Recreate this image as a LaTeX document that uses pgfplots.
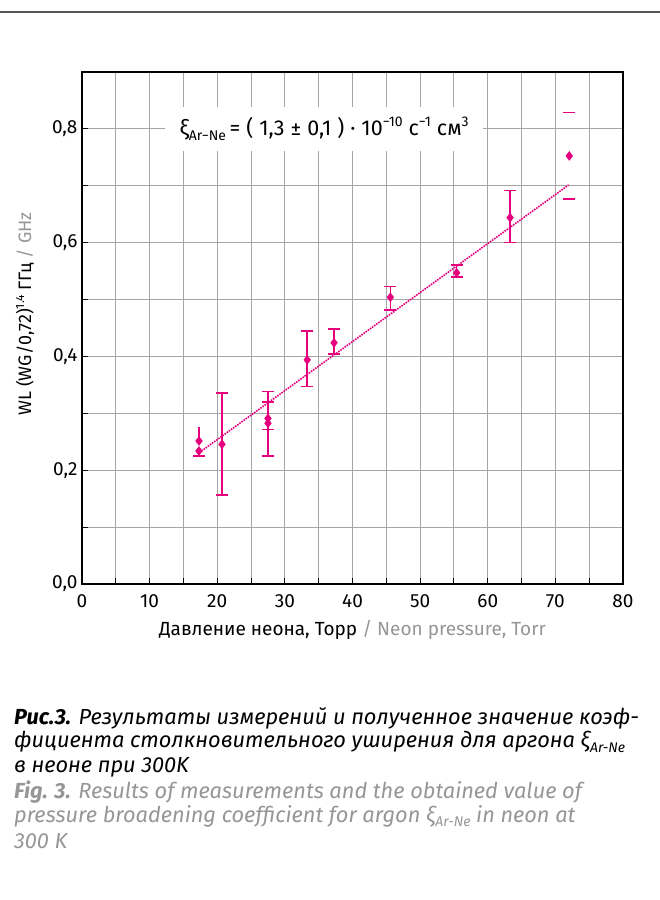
\documentclass[border=0pt]{standalone}
\usepackage{fontspec}
\setmainfont{Fira Sans}
\usepackage{pgfplots}
\pgfplotsset{compat=1.18}
\definecolor{mag}{RGB}{230,0,126}
\definecolor{gtxt}{RGB}{150,150,150}
\definecolor{gridc}{RGB}{165,165,165}
\definecolor{topline}{RGB}{85,85,85}
\pgfplotsset{
  error bars/error bar style={line width=1.5pt, draw=mag},
  error bars/error mark options={rotate=90, draw=mag, line width=1.5pt, mark size=6pt},
}
\newcommand{\lo}[1]{\raisebox{-0.45ex}{\fontsize{14}{14}\selectfont #1}}
\newcommand{\hi}[1]{\raisebox{0.75ex}{\fontsize{14}{14}\selectfont #1}}
\newcommand{\yhi}[1]{\raisebox{0.75ex}{\fontsize{12}{12}\selectfont #1}}
\newcommand{\clo}[1]{\raisebox{-0.4ex}{\fontsize{14}{14}\selectfont #1}}
\begin{document}
\begin{tikzpicture}
\useasboundingbox (0pt,0pt) rectangle (660pt,900pt);
\draw[line width=2pt, topline] (0pt,888pt) -- (660pt,888pt);
\begin{axis}[at={(82pt,316pt)}, anchor=south west, scale only axis,
  width=541pt, height=512pt,
  xmin=0, xmax=80, ymin=0, ymax=0.9,
  xtick={0,10,20,30,40,50,60,70,80}, minor xtick={5,15,25,35,45,55,65,75},
  ytick={0,0.2,0.4,0.6,0.8}, minor ytick={0.1,0.3,0.5,0.7},
  grid=both,
  major grid style={gridc, line width=1pt},
  minor grid style={gridc, line width=1pt},
  axis line style={line width=1.5pt, black},
  tick pos=left, tick align=inside,
  major tick length=6pt, minor tick length=6pt,
  every tick/.style={black, line width=1pt},
  tick label style={font=\fontsize{19}{22}\selectfont},
  /pgf/number format/assume math mode=true,
  yticklabel style={xshift=-1pt, /pgf/number format/.cd, fixed, fixed zerofill, precision=1, use comma},
  xticklabel style={yshift=-7pt},
  xlabel={Давление неона, Торр \textcolor{gtxt}{/ Neon pressure, Torr}},
  xlabel style={font=\fontsize{19}{22}\selectfont, yshift=-6pt},
  clip=false,
]
% fit line
\addplot[mag, densely dotted, line width=1.6pt] coordinates {(17.35,0.231) (71.97,0.7015)};
% points with capped error bars
\addplot[mag, draw=mag, only marks, mark=diamond*, mark size=4.5pt,
  error bars/.cd, y dir=both, y explicit]
  table[x=x, y=y, y error plus=ep, y error minus=em] {
x      y       ep      em
27.5   0.291   0.047   0.019
27.5   0.2825  0.037   0.0575
33.3   0.394   0.051   0.047
37.27  0.424   0.024   0.020
45.6   0.504   0.019   0.022
55.4   0.547   0.014   0.007
63.3   0.644   0.0475  0.044
};
% first point, upper bar without cap
\addplot[mag, draw=mag, only marks, mark=diamond*, mark size=4.5pt,
  error bars/.cd, y dir=plus, y explicit, error mark=none]
  table[x=x, y=y, y error plus=ep] {
x     y       ep
17.3  0.2514  0.0252
};
\addplot[mag, draw=mag, only marks, mark=diamond*, mark size=4.5pt,
  error bars/.cd, y dir=minus, y explicit]
  table[x=x, y=y, y error minus=em] {
x     y       em
17.3  0.2338  0.009
};
% last point: marker and two caps
\addplot[mag, only marks, mark=diamond*, mark size=4.5pt] coordinates {(72.06,0.7525)};
\addplot[mag, only marks, mark=-, mark size=6pt, mark options={line width=1.5pt}] coordinates {(72.06,0.829) (72.06,0.677)};
% point at 20.7 drawn last: vertical bar, caps, marker
\addplot[draw=mag, color=mag, line width=1.6pt, mark=none] coordinates {(20.7,0.156) (20.7,0.3353)};
\addplot[color=mag, only marks, mark=-, mark size=6pt, mark options={draw=mag, line width=1.6pt}] coordinates {(20.7,0.156) (20.7,0.3353)};
\addplot[color=mag, only marks, mark=diamond*, mark size=4.5pt] coordinates {(20.7,0.2456)};
\node[fill=white, inner sep=0pt, minimum width=318pt, minimum height=44pt, font=\fontsize{21.5}{24}\selectfont]
  at (axis cs:35.8,0.8) {ξ\lo{Ar−Ne}\,=\;(\;1,3\;±\;0,1\;)\;·\;10\hi{−10}\;с\hi{−1}\;см\hi{3}};
\end{axis}
\node[rotate=90, font=\fontsize{18}{21}\selectfont] at (25pt,586pt)
  {WL (WG/0,72)\yhi{1.4} ГГц \textcolor{gtxt}{/ GHz}};
\begin{scope}[every node/.style={anchor=west, inner sep=0pt, font=\fontsize{21.8}{24}\selectfont\itshape}]
\node at (14pt,182pt) {\textbf{Рис.3.} Результаты измерений и полученное значение коэф-};
\node at (14pt,158pt) {фициента столкновительного уширения для аргона ξ\clo{Ar-Ne}};
\node at (14pt,133pt) {в неоне при 300K};
\node[gtxt] at (14pt,108pt) {\textbf{Fig. 3.} Results of measurements and the obtained value of};
\node[gtxt] at (14pt,84pt) {pressure broadening coefficient for argon ξ\clo{Ar-Ne} in neon at};
\node[gtxt] at (14pt,59pt) {300 K};
\end{scope}
\end{tikzpicture}
\end{document}
